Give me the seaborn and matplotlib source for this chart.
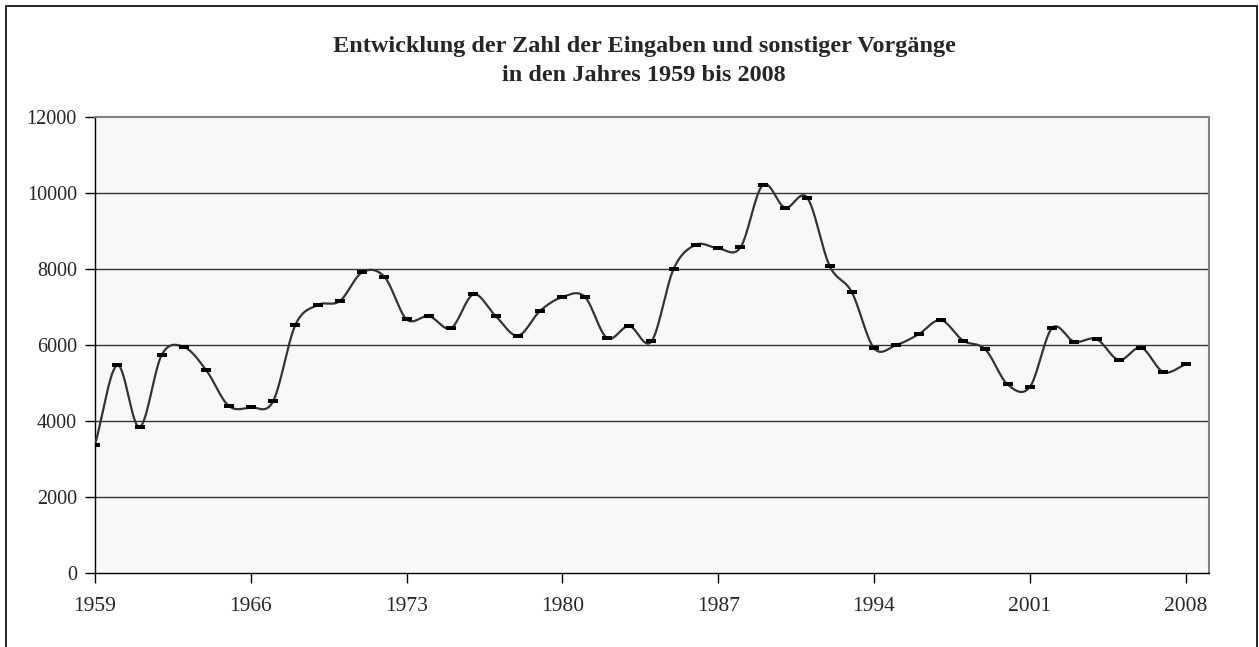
import matplotlib
matplotlib.use('Agg')
import matplotlib.pyplot as plt
import matplotlib.patches as mpatches
import numpy as np
import pandas as pd
import seaborn as sns

# Data
years = list(range(1959, 2009))
values = [3380, 5470, 3840, 5745, 5945, 5335, 4405, 4360, 4520, 6525,
          7050, 7155, 7910, 7795, 6675, 6760, 6445, 7330, 6760, 6245,
          6900, 7260, 7270, 6185, 6500, 6095, 8005, 8635, 8540, 8565,
          10205, 9610, 9870, 8085, 7390, 5915, 6000, 6280, 6655, 6115,
          5885, 4965, 4895, 6445, 6085, 6155, 5605, 5930, 5290, 5490]
x_ticks = [1959, 1966, 1973, 1980, 1987, 1994, 2001, 2008]
y_ticks = [0, 2000, 4000, 6000, 8000, 10000, 12000]
title = 'Entwicklung der Zahl der Eingaben und sonstiger Vorgänge\nin den Jahres 1959 bis 2008'

df = pd.DataFrame({'year': years, 'value': values})


def smooth(x, y, n=30):
    # Catmull-Rom spline, similar to the spreadsheet "smoothed line"
    x = np.asarray(x, float)
    y = np.asarray(y, float)
    px = np.concatenate([[2 * x[0] - x[1]], x, [2 * x[-1] - x[-2]]])
    py = np.concatenate([[2 * y[0] - y[1]], y, [2 * y[-1] - y[-2]]])
    t = np.linspace(0, 1, n, endpoint=False)
    xs, ys = [], []
    for i in range(1, len(px) - 2):
        for p, out in ((px, xs), (py, ys)):
            p0, p1, p2, p3 = p[i - 1], p[i], p[i + 1], p[i + 2]
            out.extend(0.5 * (2 * p1 + (-p0 + p2) * t
                              + (2 * p0 - 5 * p1 + 4 * p2 - p3) * t ** 2
                              + (-p0 + 3 * p1 - 3 * p2 + p3) * t ** 3))
    xs.append(x[-1])
    ys.append(y[-1])
    return pd.DataFrame({'year': xs, 'value': ys})


df_smooth = smooth(df['year'], df['value'])

sns.set_style('white')
plt.rcParams['font.family'] = ['Liberation Serif', 'DejaVu Serif']

fig = plt.figure(figsize=(12.59, 6.47), dpi=100)
ax = fig.add_axes([95 / 1259, 1 - 573.3 / 647, (1209 - 95) / 1259, (573.3 - 116.7) / 647])
ax.set_facecolor('#f8f8f8')

for yv in y_ticks[1:-1]:
    ax.axhline(yv, color='#333333', lw=1, zorder=1)

sns.lineplot(data=df_smooth, x='year', y='value', ax=ax, color='#333333',
             lw=1.6, sort=False, estimator=None, zorder=3)
rect = [(-2, -0.75), (2, -0.75), (2, 0.75), (-2, 0.75)]
sns.scatterplot(data=df, x='year', y='value', ax=ax, marker=rect, s=45,
                color='black', edgecolor='black', linewidth=0, zorder=4)

ax.set_xlim(1959, 2009.05)
ax.set_ylim(0, 12000)
ax.set_xticks(x_ticks)
ax.set_yticks(y_ticks)
ax.tick_params(axis='both', direction='out', length=7, width=1, color='black',
               left=True, bottom=True)
ax.tick_params(axis='y', labelsize=14.5, pad=6)
ax.tick_params(axis='x', labelsize=15.5, pad=10)
ax.set_xlabel('')
ax.set_ylabel('')

for side in ['left', 'bottom']:
    ax.spines[side].set_color('black')
    ax.spines[side].set_linewidth(1)
for side in ['top', 'right']:
    ax.spines[side].set_color('#808080')
    ax.spines[side].set_linewidth(1.5)

fig.text(644 / 1259, 1 - 61 / 647, title, ha='center', va='center',
         fontsize=17.5, fontweight='bold', linespacing=1.45)

# outer chart frame
fig.patches.append(mpatches.Rectangle((6 / 1259, -0.05), (1257 - 6) / 1259, 1.05 - 5.5 / 647,
                                      transform=fig.transFigure, fill=False,
                                      edgecolor='black', lw=1.2))

fig.savefig('out.png', dpi=100)
